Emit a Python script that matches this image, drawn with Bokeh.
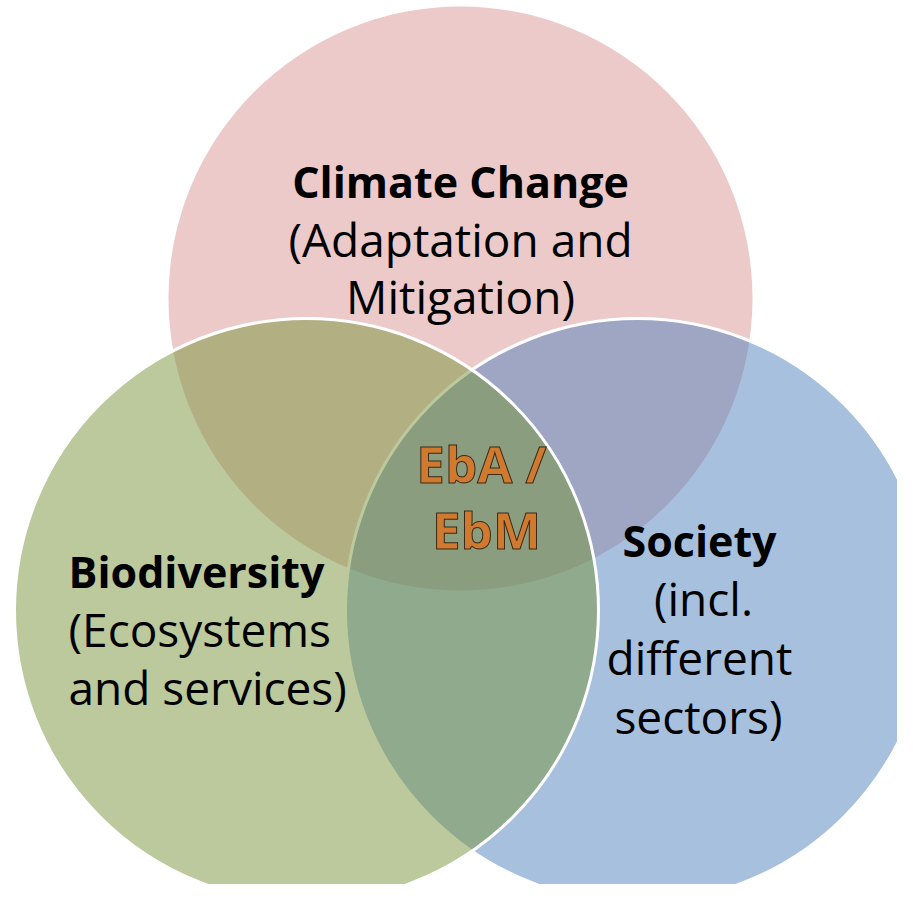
from bokeh.plotting import figure
from bokeh.models import Range1d
from bokeh.core.properties import value
from bokeh.embed import file_html
from bokeh.resources import INLINE

# ---- data ----
sets = ["Climate Change", "Society", "Biodiversity"]
set_colors = ["#D99694", "#4F81BD", "#77933C"]
circle_x = [460, 637, 306]
circle_y = [298, 610, 610]
circle_r = [292, 292, 292]

climate_lines = ["Climate Change", "(Adaptation and", "Mitigation)"]
bio_lines = ["Biodiversity", "(Ecosystems", "and services)"]
society_lines = ["Society", "(incl.", "different", "sectors)"]
center_lines = ["EbA /", "EbM"]

FONT = "Open Sans"

p = figure(width=897, height=884, output_backend="svg", toolbar_location=None,
           x_range=Range1d(0, 897), y_range=Range1d(884, 0),
           x_axis_type=None, y_axis_type=None, min_border=0)
p.outline_line_color = None
p.xgrid.grid_line_color = None
p.ygrid.grid_line_color = None
p.background_fill_color = "white"
p.border_fill_color = "white"

# red (no outline), then blue, then green with white outlines
p.circle(x=[circle_x[0]], y=[circle_y[0]], radius=[circle_r[0]],
         fill_color=set_colors[0], fill_alpha=0.5, line_color=None)
for i in (1, 2):
    p.circle(x=[circle_x[i]], y=[circle_y[i]], radius=[circle_r[i]],
             fill_color=set_colors[i], fill_alpha=0.5,
             line_color="white", line_width=3)

def txt(x, y, t, size, bold=False, align="center", color="black", **kw):
    off = 0.38 * size
    p.text(x=x, y=[v - off for v in y], text=t, text_font=value(FONT),
           text_font_size=f"{size}px", text_font_style="bold" if bold else "normal",
           text_align=align, text_baseline="alphabetic", text_color=color, **kw)

BOLD = 43
REG = 46
# Climate change block
txt([460], [197], [climate_lines[0]], BOLD, bold=True)
txt([460, 460], [256, 313], climate_lines[1:], REG)
# Biodiversity block
txt([68], [587], [bio_lines[0]], BOLD, bold=True, align="left")
txt([68, 68], [646, 704], bio_lines[1:], REG, align="left")
# Society block
txt([699], [556], [society_lines[0]], BOLD, bold=True)
txt([703, 699, 698], [615, 674, 733], society_lines[1:], REG)
# Center
txt([481, 486], [482, 548], center_lines, 51, bold=True, color="#D07A30",
    text_outline_color="#3a2a18")

open("out.html", "w").write(file_html(p, INLINE))
